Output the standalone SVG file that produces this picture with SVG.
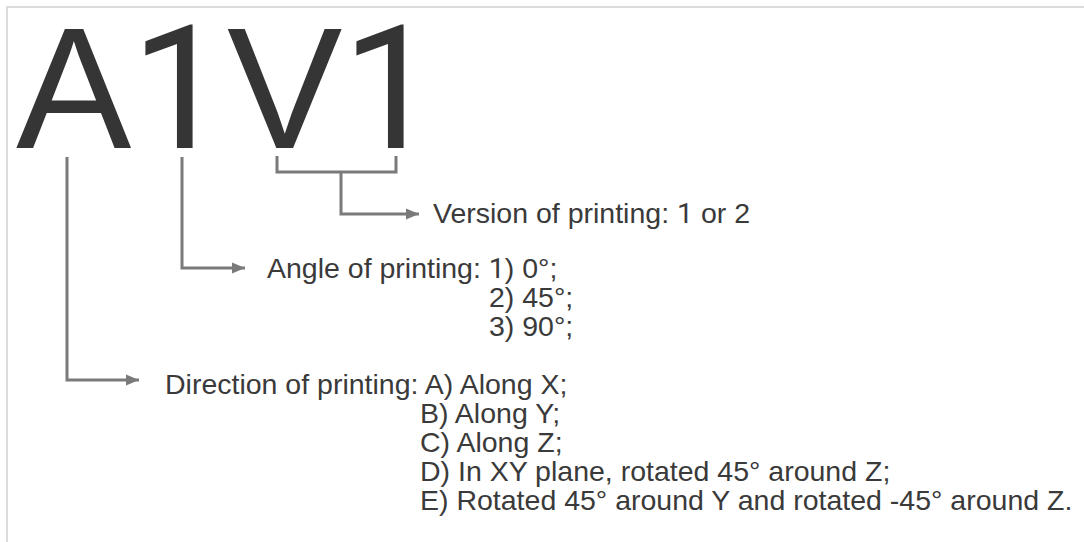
<svg xmlns="http://www.w3.org/2000/svg" width="1084" height="542" viewBox="0 0 1084 542">
<defs>
<marker id="arr" markerUnits="userSpaceOnUse" markerWidth="14" markerHeight="12" refX="13" refY="6" orient="auto">
<path d="M0,0.5 L13,6 L0,11.5 z" fill="#7a7a7a"/>
</marker>
<style>
text{font-family:'Liberation Sans',Arimo,Arial,Helvetica,sans-serif}
.big{font-size:173px;fill:#353535}
.lbl{font-size:28.5px;fill:#3a3a3a}
.d{font-family:Roboto,'Liberation Sans',Arial,sans-serif}
.con{fill:none;stroke:#7a7a7a;stroke-width:3}
.frame{fill:none;stroke:#dcdcdc;stroke-width:2}
</style>
</defs>
<rect width="1084" height="542" fill="#ffffff"/>
<path class="frame" d="M7,542 V7 H1084"/>
<g id="code"><text class="big" y="148"><tspan x="16">A</tspan><tspan class="d" x="131">1</tspan><tspan x="227">V</tspan><tspan class="d" x="342">1</tspan></text></g>
<g id="connectors">
<path class="con" d="M67,157 V380 H139" marker-end="url(#arr)"/>
<path class="con" d="M182,157 V268 H245" marker-end="url(#arr)"/>
<path class="con" d="M277,156 V172 H396 V156"/>
<path class="con" d="M341,172 V214 H419" marker-end="url(#arr)"/>
</g>
<g id="version"><text class="lbl" x="433" y="223">Version of printing: <tspan class="d">1</tspan> or 2</text></g>
<g id="angle">
<text class="lbl" x="267" y="278">Angle of printing: <tspan class="d">1</tspan>) 0°;</text>
<text class="lbl" x="489" y="307">2) 45°;</text>
<text class="lbl" x="489" y="336">3) 90°;</text>
</g>
<g id="direction">
<text class="lbl" x="165" y="394">Direction of printing: A) Along X;</text>
<text class="lbl" x="420" y="423">B) Along Y;</text>
<text class="lbl" x="420" y="452">C) Along Z;</text>
<text class="lbl" x="420" y="481">D) In XY plane, rotated 45° around Z;</text>
<text class="lbl" x="420" y="510">E) Rotated 45° around Y and rotated -45° around Z.</text>
</g>
</svg>
